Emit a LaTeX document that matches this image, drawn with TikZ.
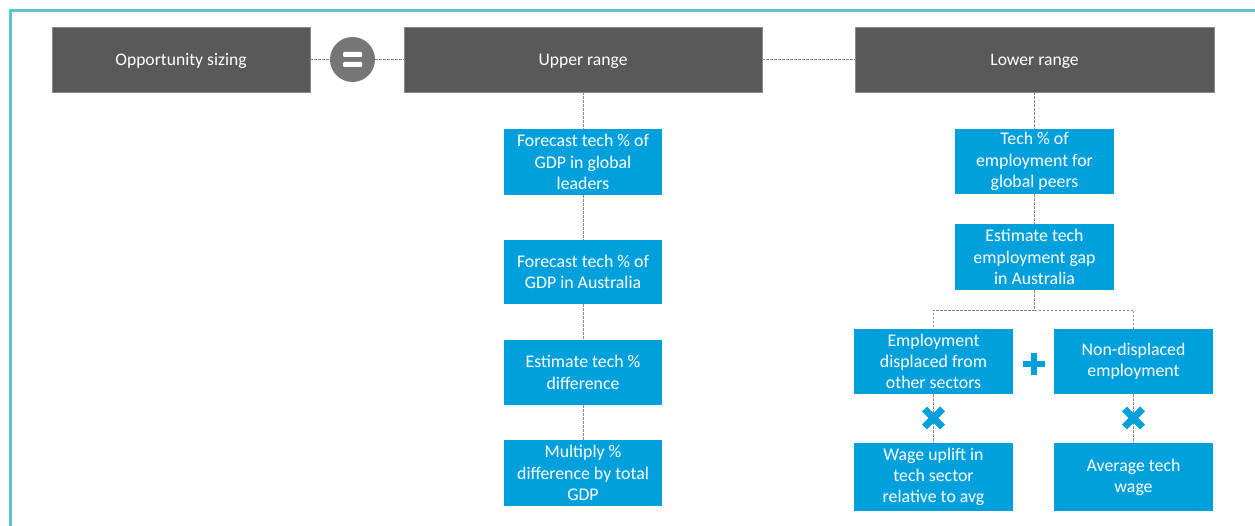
\documentclass[tikz,border=0pt]{standalone}
\usepackage{fontspec}
\setmainfont{Carlito}
\definecolor{headgray}{HTML}{595959}
\definecolor{stepblue}{HTML}{00A0DC}
\definecolor{eqgray}{HTML}{767676}
\definecolor{frameteal}{HTML}{5BC3CB}
\definecolor{dashgray}{HTML}{8A8A8A}
\begin{document}
\begin{tikzpicture}[x=1pt,y=-1pt,
  headbox/.style={rectangle, fill=headgray, draw=headgray!70!white, line width=0.5pt, text=white, minimum height=65pt, inner sep=0pt, text depth=0pt, font=\fontsize{17.6}{21.5}\selectfont},
  stepbox/.style={rectangle, fill=stepblue, text=white, minimum width=158pt, minimum height=66pt, inner sep=0pt, align=center, font=\fontsize{17.8}{21.3}\selectfont},
  link/.style={draw=dashgray, line width=0.8pt, dash pattern=on 2.5pt off 1.5pt},
  opsign/.style={minimum size=22pt, inner sep=0pt}
]
\useasboundingbox (0,0) rectangle (1255,526);
\fill[white] (0,0) rectangle (1255,526);
% frame
\draw[frameteal, line width=3pt] (10.5,526) -- (10.5,10.5) -- (1255,10.5);

% header boxes
\node[headbox, minimum width=258pt] (opp) at (181,59.5) {Opportunity sizing};
\node[circle, fill=eqgray, minimum size=45pt, inner sep=0pt] (eq) at (352.5,59.5) {};
\node[headbox, minimum width=358pt] (upper) at (583,59.5) {Upper range};
\node[headbox, minimum width=359pt] (lower) at (1034.5,59.5) {Lower range};

% equal bars
\fill[white, rounded corners=1pt] (343,52) rectangle (362,57);
\fill[white, rounded corners=1pt] (343,62) rectangle (362,67);

% upper range steps
\node[stepbox] (u1) at (583,162) {Forecast tech \% of\\GDP in global\\leaders};
\node[stepbox, minimum height=64pt] (u2) at (583,272) {Forecast tech \% of\\GDP in Australia};
\node[stepbox, minimum height=65pt] (u3) at (583,372.5) {Estimate tech \%\\difference};
\node[stepbox] (u4) at (583,473) {Multiply \%\\difference by total\\GDP};

% lower range steps
\node[stepbox, minimum width=159pt, minimum height=65pt] (l1) at (1034.5,161.5) {Tech \% of\\employment for\\global peers};
\node[stepbox, minimum width=159pt] (l2) at (1034.5,257) {Estimate tech\\employment gap\\in Australia};
\node[stepbox, minimum width=159pt, minimum height=65pt] (s1) at (933.5,361.5) {Employment\\displaced from\\other sectors};
\node[stepbox, minimum width=159pt, minimum height=65pt] (s2) at (1133.5,361.5) {Non-displaced\\employment};
\node[stepbox, minimum width=159pt, minimum height=68pt] (b1) at (933.5,477) {Wage uplift in\\tech sector\\relative to avg};
\node[stepbox, minimum width=159pt, minimum height=68pt] (b2) at (1133.5,477) {Average tech\\wage};

% connectors
\path[link] (opp.east) -- (eq.west);
\path[link] (eq.east) -- (upper.west);
\path[link] (upper.east) -- (lower.west);
\path[link] (upper.south) -- (u1.north);
\path[link] (u1.south) -- (u2.north);
\path[link] (u2.south) -- (u3.north);
\path[link] (u3.south) -- (u4.north);
\path[link] (lower.south) -- (l1.north);
\path[link] (l1.south) -- (l2.north);
\coordinate (split) at (1034.5,310);
\path[link] (l2.south) -- (split);
\path[link] (split) -| (s1.north);
\path[link] (split) -| (s2.north);
\path[link] (s1.south) -- (b1.north);
\path[link] (s2.south) -- (b2.north);

% operator signs
\node[opsign] (plus) at (1034,364) {};
\fill[stepblue] ([xshift=-11pt,yshift=-3pt]plus.center) rectangle ([xshift=11pt,yshift=3pt]plus.center);
\fill[stepblue] ([xshift=-3pt,yshift=-11pt]plus.center) rectangle ([xshift=3pt,yshift=11pt]plus.center);
\node[opsign] (times1) at (933.5,418) {};
\node[opsign] (times2) at (1133.5,418) {};
\foreach \t in {times1,times2}{
  \draw[stepblue, line width=7pt] ([xshift=-9pt,yshift=-9pt]\t.center) -- ([xshift=9pt,yshift=9pt]\t.center);
  \draw[stepblue, line width=7pt] ([xshift=-9pt,yshift=9pt]\t.center) -- ([xshift=9pt,yshift=-9pt]\t.center);
}
\end{tikzpicture}
\end{document}
